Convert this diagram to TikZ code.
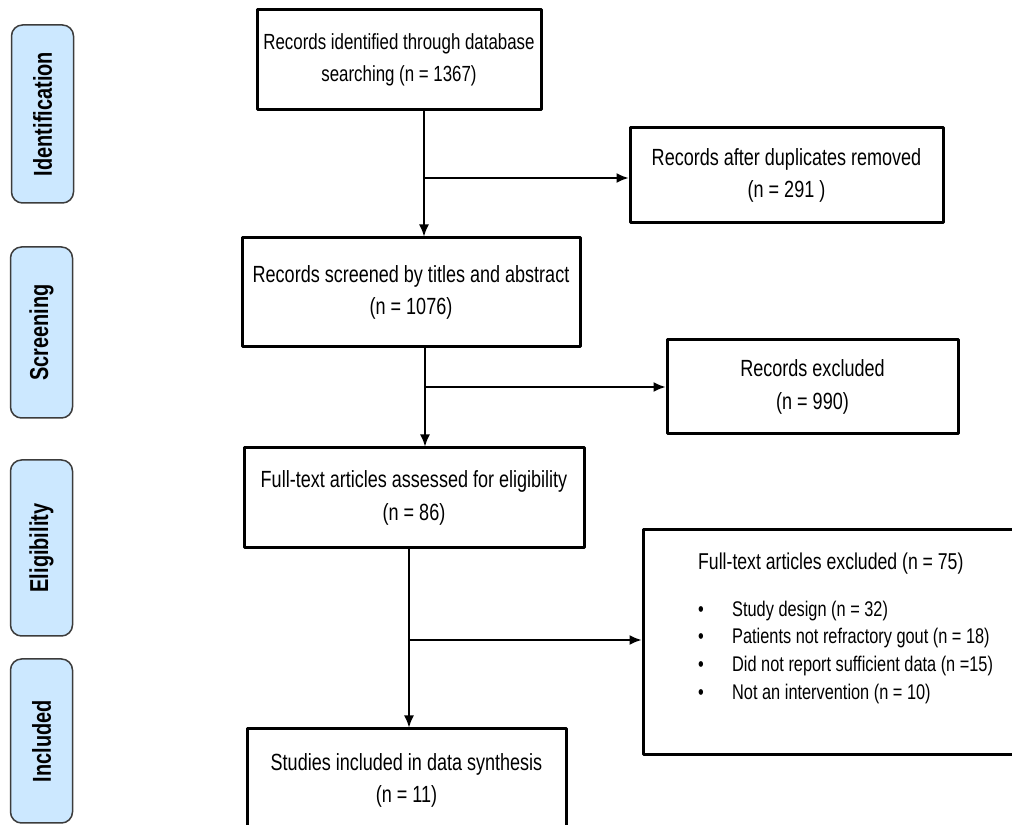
\documentclass[tikz,border=0pt]{standalone}
\usepackage{fontspec}
\setmainfont{Liberation Sans}[FakeStretch=0.77]
\usetikzlibrary{arrows.meta}
\definecolor{phasefill}{HTML}{CCE8FF}
\definecolor{phaseline}{HTML}{3C3C3C}
\begin{document}
\begin{tikzpicture}[>={Latex[length=12bp,width=10bp]},line join=bevel,
  box/.style={draw,line width=3bp,inner sep=0pt,align=center,
    font=\fontsize{23.5}{33}\selectfont},
  phase/.style={draw=phaseline,fill=phasefill,line width=1.5bp,rounded corners=11bp,
    rotate=90,inner sep=0pt,minimum height=62bp,font=\fontsize{26}{30}\selectfont\bfseries},
  link/.style={black,line width=1.6bp,->},
]
\useasboundingbox (0bp,0bp) rectangle (1012bp,825bp);
%%
\node (phase_0) at (42.5bp,711bp) [phase,minimum width=178bp] {Identification};
  \node (phase_1) at (41.5bp,492.5bp) [phase,minimum width=171bp] {Screening};
  \node (phase_2) at (41.5bp,277bp) [phase,minimum width=176bp] {Eligibility};
  \node (phase_3) at (41.5bp,84bp) [phase,minimum width=164bp] {Included};
%%
\node (node_0) at (399bp,765bp) [box,minimum width=284bp,minimum height=100bp,
    font=\fontsize{22}{32}\selectfont] {Records identified through database\\searching (n = 1367)};
  \node (node_1) at (786.5bp,649.5bp) [box,minimum width=313bp,minimum height=95bp] {Records after duplicates removed\\(n = 291 )};
  \node (node_2) at (411bp,532.5bp) [box,minimum width=338bp,minimum height=109bp] {Records screened by titles and abstract\\(n = 1076)};
  \node (node_3) at (812.5bp,438bp) [box,minimum width=291bp,minimum height=94bp] {Records excluded\\(n = 990)};
  \node (node_4) at (414bp,327bp) [box,minimum width=340bp,minimum height=100bp] {Full-text articles assessed for eligibility\\(n = 86)};
  \node (node_5) at (831.5bp,182.5bp) [box,minimum width=377bp,minimum height=225bp] {};
  \node (node_5_list) at (698bp,272bp) [anchor=north west,inner sep=0pt,align=left,
    font=\fontsize{21.3}{27.7}\selectfont] {{\fontsize{23}{27.7}\selectfont Full-text articles excluded (n = 75)}\\[19bp]
    \makebox[34bp][l]{\textbullet}Study design (n = 32)\\
    \makebox[34bp][l]{\textbullet}Patients not refractory gout (n = 18)\\
    \makebox[34bp][l]{\textbullet}Did not report sufficient data (n =15)\\
    \makebox[34bp][l]{\textbullet}Not an intervention (n = 10)};
  \node (node_6) at (406.5bp,44.5bp) [box,minimum width=319bp,minimum height=103bp] {Studies included in data synthesis\\(n = 11)};
%
\coordinate (split_0) at (424bp,647bp);
  \coordinate (split_1) at (425bp,438bp);
  \coordinate (split_2) at (409bp,185bp);
  \draw [link] (node_0.south -| split_0) -- (node_2.north -| split_0);
  \draw [link] (split_0) -- (node_1.west |- split_0);
  \draw [link] (node_2.south -| split_1) -- (node_4.north -| split_1);
  \draw [link] (split_1) -- (node_3.west |- split_1);
  \draw [link] (node_4.south -| split_2) -- (node_6.north -| split_2);
  \draw [link] (split_2) -- (node_5.west |- split_2);
%
\end{tikzpicture}
\end{document}
